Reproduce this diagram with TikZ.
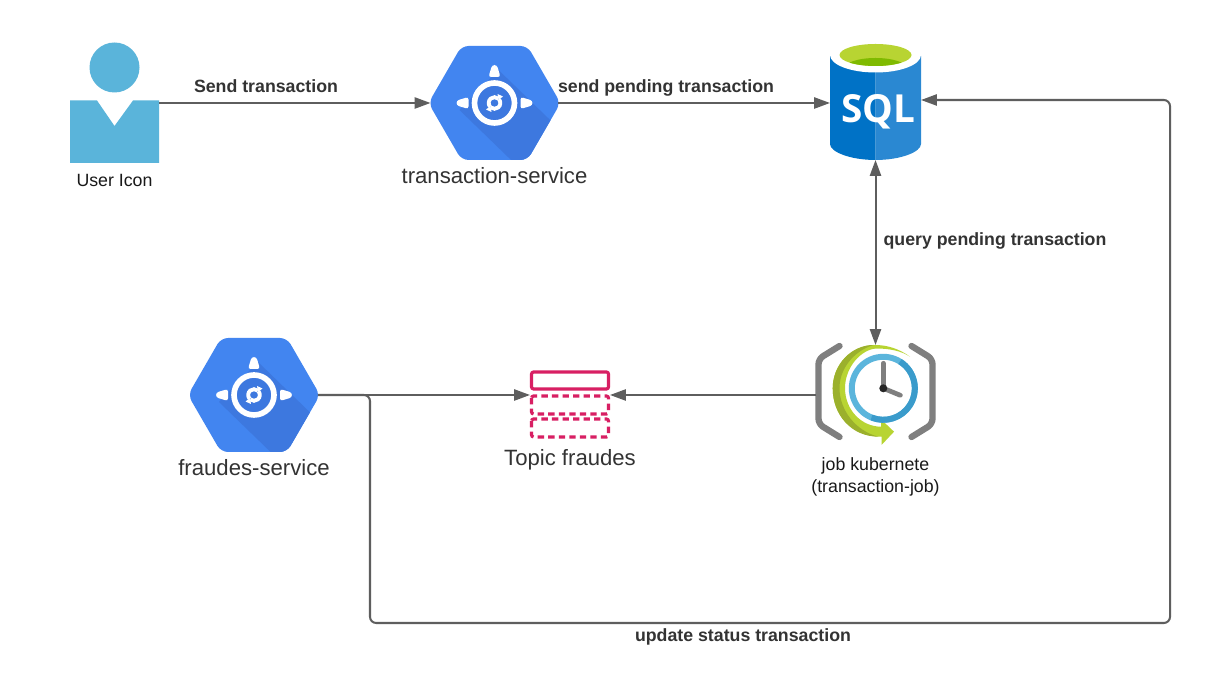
\documentclass[tikz,border=0pt]{standalone}
\usepackage{fontspec}
\setmainfont{Liberation Sans}
\newfontfamily\sqlfont{Open Sans}
\usepackage{xcolor}
\usetikzlibrary{arrows.meta}
\definecolor{lineGray}{HTML}{5E5E5E}
\definecolor{textGray}{HTML}{333333}
\definecolor{userBlue}{HTML}{5AB4DA}
\definecolor{gaeBlue}{HTML}{4285F0}
\definecolor{gaeShade}{HTML}{3D78DF}
\definecolor{sqlLeft}{HTML}{0072C6}
\definecolor{sqlRight}{HTML}{2A88D2}
\definecolor{limeLight}{HTML}{B8D432}
\definecolor{limeDark}{HTML}{7FBA00}
\definecolor{olive}{HTML}{9BB02C}
\definecolor{clockLight}{HTML}{5BB5DC}
\definecolor{clockDark}{HTML}{3A9BCB}
\definecolor{bracketGray}{HTML}{7F7F7F}
\definecolor{topicRed}{HTML}{D81F63}
\tikzset{
  iconbox/.style={inner sep=0pt,outer sep=0pt},
  flow/.style={draw=lineGray,line width=1.15pt,-{Triangle[length=9pt,width=6.3pt]}},
  boldlabel/.style={font=\fontsize{10.1}{12}\selectfont\bfseries,text=textGray},
  biglabel/.style={font=\fontsize{12.6}{15}\selectfont,text=textGray},
  smalllabel/.style={font=\fontsize{10.1}{12.5}\selectfont,text=black!90,align=center},
  topicsolid/.style={draw=topicRed,line width=1.8pt,rounded corners=1.2pt},
  topicdash/.style={topicsolid,dash pattern=on 3.6pt off 2.4pt},
  pics/gaeicon/.style={code={
    \def\hexpath{(-66,0) -- (-33,-57) -- (33,-57) -- (66,0) -- (33,57) -- (-33,57) -- cycle}
    \fill[gaeBlue,rounded corners=4pt] \hexpath;
    \begin{scope}
      \clip[rounded corners=4pt] \hexpath;
      \fill[gaeShade] (4,-33) -- (70,31) -- (70,70) -- (30,70) -- (-35,7) -- cycle;
    \end{scope}
    \draw[white,line width=3.2pt] (0,0) circle (20);
    \draw[white,line width=2.2pt] (-40:5.8) arc[start angle=-40,end angle=130,radius=5.8];
    \draw[white,line width=2.2pt] (140:5.8) arc[start angle=140,end angle=310,radius=5.8];
    \fill[white] (3,-9) -- (8.5,-6.5) -- (4,-3) -- cycle;
    \fill[white] (-3,9) -- (-8.5,6.5) -- (-4,3) -- cycle;
    \foreach \a in {0,90,-90}
      \fill[white,rotate=\a,rounded corners=1.5pt] (-6,-26) -- (-2.4,-38) -- (2.4,-38) -- (6,-26) -- cycle;
  }},
  pics/sqlicon/.style={code={
    \fill[sqlLeft] (-45.5,-46) -- (0,-46) -- (0,58) .. controls (-25,58) and (-45.5,50) .. (-45.5,42) -- cycle;
    \fill[sqlRight] (0,-46) -- (45.5,-46) -- (45.5,42) .. controls (45.5,50) and (25,58) .. (0,58) -- cycle;
    \fill[white] (0,-47) ellipse [x radius=45.5,y radius=17.5];
    \fill[limeLight] (0,-47) ellipse [x radius=36,y radius=11];
    \begin{scope}
      \clip (0,-47) ellipse [x radius=36,y radius=11];
      \fill[limeDark] (0,-33) ellipse [x radius=32,y radius=11];
    \end{scope}
    \node[text=white,font=\fontsize{22}{22}\selectfont\sqlfont\bfseries] at (2.5,10) {SQL};
  }},
  pics/jobicon/.style={code={
    % brackets
    \draw[bracketGray,line width=3.6pt,line cap=round,line join=round,rounded corners=3pt]
      (-36,-49) -- (-57,-36) -- (-57,29) -- (-36,42);
    \draw[bracketGray,line width=3.6pt,line cap=round,line join=round,rounded corners=3pt]
      (36,-49) -- (57,-36) -- (57,29) -- (36,42);
    % swoosh
    \fill[limeLight] (34.5,-38.3) .. controls (24,-46) and (12,-50) .. (-0.5,-50)
      .. controls (-24,-50) and (-42.8,-30.5) .. (-42.8,-6.7)
      .. controls (-42.8,20) and (-24,41.7) .. (6,41.7)
      -- (6,50) -- (18.5,36.7) -- (5.5,24.3) -- (5.5,31.7)
      .. controls (-14,31.7) and (-30.5,15) .. (-30.5,-7)
      .. controls (-30.5,-28) and (-14,-46) .. (1.2,-46.5)
      .. controls (14,-46.5) and (26,-44) .. (34.5,-38.3) -- cycle;
    \fill[olive] (-2,-50) .. controls (-24,-50) and (-42.8,-30.5) .. (-42.8,-6.7)
      .. controls (-42.8,20) and (-24,41.7) .. (3,41.7)
      .. controls (-20,36) and (-36,15) .. (-36,-7)
      .. controls (-36,-26) and (-22,-44) .. (-2,-50) -- cycle;
    % clock
    \begin{scope}[shift={(7.8,-6.7)}]
      \draw[clockLight,line width=3.4pt] (0,0) circle (31.5);
      \draw[clockDark,line width=3.4pt] (-58:31.5) arc[start angle=-58,end angle=112,radius=31.5];
      \draw[bracketGray,line width=2.7pt,line cap=round] (0,0) -- (0,-25);
      \draw[bracketGray,line width=2.7pt,line cap=round] (0,0) -- (17,7);
      \fill[black!85] (0,0) circle (4);
    \end{scope}
  }}
}
\begin{document}
\begin{tikzpicture}[x=0.02cm,y=-0.02cm]
  \useasboundingbox[fill=white] (0,0) rectangle (1210,688);
  % user
  \node[iconbox,minimum width=1.78cm,minimum height=2.4cm] (user) at (114.5,103) {};
  \fill[userBlue] (114.5,67.5) circle (25);
  \fill[userBlue] (70,100.5) -- (97,100.5) -- (114.5,126) -- (133,100.5) -- (159,100.5) -- (159,163) -- (70,163) -- cycle;
  \node[smalllabel] (userlabel) at (114.5,180) {User Icon};
  % services
  \node[iconbox,minimum width=2.56cm,minimum height=2.28cm] (transactionsvc) at (494.5,103) {};
  \pic at (transactionsvc) {gaeicon};
  \node[biglabel] (transactionlabel) at (494.5,176) {transaction-service};
  \node[iconbox,minimum width=2.56cm,minimum height=2.28cm] (fraudessvc) at (254,395) {};
  \pic at (fraudessvc) {gaeicon};
  \node[biglabel] (fraudeslabel) at (254,468) {fraudes-service};
  % database
  \node[iconbox,minimum width=1.82cm,minimum height=2.32cm] (sql) at (875.5,102) {};
  \pic at (sql) {sqlicon};
  % topic
  \node[iconbox,minimum width=1.6cm,minimum height=1.36cm] (topic) at (570,404) {};
  \draw[topicdash] (531.5,419) rectangle (608.5,437);
  \draw[topicdash] (531.5,396) rectangle (608.5,414);
  \draw[topicsolid] (531.5,372) rectangle (608.5,389);
  \node[biglabel] (topiclabel) at (570,460) {Topic fraudes};
  % job
  \node[iconbox,minimum width=2.38cm,minimum height=2cm] (job) at (875.5,395) {};
  \pic at (job) {jobicon};
  \node[smalllabel] (joblabel) at (875.5,476.5) {job kubernete\\(transaction-job)};
  % connectors
  \draw[flow] (user.east) -- (transactionsvc.west);
  \draw[flow] (transactionsvc.east) -- (transactionsvc.east -| sql.west);
  \draw[flow,{Triangle[length=9pt,width=6.3pt]}-{Triangle[length=9pt,width=6.3pt]}] (sql.south -| job.north) -- (job.north);
  \draw[flow] (job.west) -- (job.west -| topic.east);
  \draw[flow] (fraudessvc.east) -- (fraudessvc.east -| topic.west);
  \coordinate (returnA) at (370,623);
  \coordinate (returnB) at (1170,623);
  \coordinate (returnC) at (1170,100);
  \draw[flow,rounded corners=3.5pt] (fraudessvc.east) -- (fraudessvc.east -| returnA) -- (returnA) -- (returnB) -- (returnC) -- (returnC -| sql.east);
  % labels
  \node[boldlabel] (sendlabel) at (266,86) {Send transaction};
  \node[boldlabel] (pendinglabel) at (666,88) {send pending transaction};
  \node[boldlabel] (querylabel) at (995,241) {query pending transaction};
  \node[boldlabel] (updatelabel) at (743,637) {update status transaction};
\end{tikzpicture}
\end{document}
